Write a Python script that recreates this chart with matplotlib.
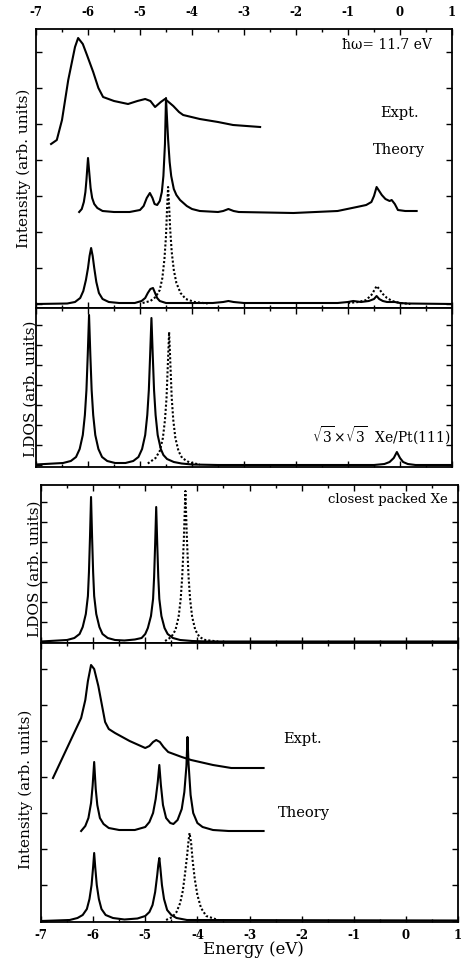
import matplotlib
matplotlib.use("Agg")
import matplotlib.pyplot as plt
from matplotlib.ticker import MultipleLocator

plt.rcParams['font.family'] = ['DejaVu Serif']
plt.rcParams['mathtext.fontset'] = 'dejavuserif'
plt.rcParams['axes.unicode_minus'] = False

# ---- sqrt3 x sqrt3 Xe/Pt(111): photoemission (top panel) ----
expt1_e = [-6.71, -6.6, -6.5, -6.38, -6.25, -6.19, -6.1, -6.02, -5.9, -5.8, -5.71, -5.5, -5.23, -5.05,
           -4.9, -4.8, -4.71, -4.6, -4.52, -4.45, -4.36, -4.25, -4.17, -3.85, -3.5, -3.21, -2.69]
expt1_i = [16.0, 16.4, 18.4, 22.4, 25.7, 26.6, 26.0, 24.9, 23.2, 21.6, 20.7, 20.3, 20.0, 20.3,
           20.5, 20.3, 19.7, 20.2, 20.5, 20.2, 19.8, 19.2, 18.9, 18.5, 18.2, 17.9, 17.7]

theo1_e = [-6.17, -6.12, -6.08, -6.05, -6.03, -6.0, -5.97, -5.95, -5.92, -5.88, -5.82, -5.72, -5.5,
           -5.2, -5.0, -4.93, -4.87, -4.81, -4.76, -4.72, -4.67, -4.62, -4.58, -4.55, -4.52, -4.5,
           -4.48, -4.46, -4.43, -4.4, -4.35, -4.3, -4.23, -4.1, -4.0, -3.85, -3.5, -3.4, -3.3, -3.2,
           -3.1, -2.05, -1.2, -0.83, -0.65, -0.55, -0.5, -0.45, -0.4, -0.35, -0.28, -0.2, -0.16,
           -0.1, -0.04, 0.1, 0.32]
theo1_i = [9.2, 9.5, 10.2, 11.2, 12.4, 14.6, 12.8, 11.6, 10.6, 10.0, 9.6, 9.3, 9.2,
           9.2, 9.4, 9.8, 10.6, 11.1, 10.6, 10.0, 9.9, 10.3, 11.2, 12.8, 16.0, 20.6,
           18.5, 16.5, 14.2, 12.8, 11.5, 10.9, 10.4, 9.8, 9.5, 9.3, 9.2, 9.3, 9.5, 9.3,
           9.2, 9.1, 9.3, 9.7, 9.9, 10.2, 10.8, 11.7, 11.3, 10.9, 10.5, 10.3, 10.4,
           10.0, 9.4, 9.3, 9.3]

part1_e = [-7.0, -6.4, -6.25, -6.15, -6.09, -6.04, -6.0, -5.97, -5.94, -5.91, -5.88, -5.84, -5.79,
           -5.72, -5.6, -5.4, -5.1, -4.97, -4.9, -4.85, -4.8, -4.75, -4.71, -4.67, -4.62, -4.5, -3.6,
           -3.4, -3.3, -3.2, -3.0, -1.2, -1.0, -0.9, -0.75, -0.6, -0.5, -0.45, -0.4, -0.33, -0.25,
           -0.1, 0.0, 0.15, 1.0]
part1_s = [0.0, 0.05, 0.2, 0.6, 1.3, 2.4, 3.6, 4.8, 5.6, 4.8, 3.6, 2.2, 1.1,
           0.5, 0.2, 0.1, 0.1, 0.3, 0.6, 1.1, 1.5, 1.6, 1.1, 0.6, 0.3, 0.1, 0.1,
           0.2, 0.3, 0.2, 0.1, 0.1, 0.2, 0.3, 0.2, 0.3, 0.5, 0.8, 0.5, 0.3, 0.2,
           0.2, 0.1, 0.05, 0.0]

dot1_e = [-4.95, -4.8, -4.7, -4.62, -4.57, -4.53, -4.5, -4.48, -4.46, -4.44, -4.42, -4.39,
          -4.35, -4.3, -4.22, -4.12, -3.95, -3.7]
dot1_p = [0.1, 0.3, 0.7, 1.4, 2.6, 4.5, 6.8, 9.5, 11.7, 9.8, 7.5, 5.2,
          3.4, 2.1, 1.1, 0.5, 0.2, 0.05]
dot1b_e = [-1.0, -0.8, -0.65, -0.55, -0.48, -0.45, -0.4, -0.33, -0.25, -0.15, 0.0, 0.2]
dot1b_p = [0.1, 0.2, 0.4, 0.9, 1.5, 1.8, 1.5, 1.0, 0.6, 0.3, 0.1, 0.0]

# ---- sqrt3 x sqrt3 Xe/Pt(111): LDOS ----
ldos1_e = [-7.0, -6.48, -6.33, -6.23, -6.16, -6.10, -6.06, -6.03, -6.005, -5.98, -5.955, -5.93,
           -5.90, -5.86, -5.80, -5.73, -5.63, -5.48, -5.28, -5.13, -5.03, -4.96, -4.90, -4.86,
           -4.83, -4.805, -4.78, -4.755, -4.73, -4.70, -4.66, -4.60, -4.55, -4.48, -4.35, -4.2,
           -4.0, -3.5, -0.5, -0.3, -0.2, -0.12, -0.06, 0.0, 0.06, 0.15, 0.3, 1.0]
ldos1_s = [0.05, 0.2, 0.4, 0.8, 1.6, 3.0, 5.0, 7.5, 11.0, 15.0, 11.0, 7.5,
           5.0, 3.0, 1.6, 0.8, 0.4, 0.2, 0.2, 0.4, 0.8, 1.6, 3.0, 5.0,
           7.5, 11.0, 14.7, 11.0, 7.5, 5.0, 3.0, 1.6, 1.0, 0.6, 0.3, 0.15,
           0.05, 0.0, 0.0, 0.1, 0.3, 0.7, 1.3, 0.7, 0.3, 0.1, 0.0, 0.0]
ldos1_dot_e = [-4.85, -4.7, -4.62, -4.56, -4.52, -4.49, -4.465, -4.44, -4.415, -4.39, -4.36,
               -4.32, -4.26, -4.19, -4.05, -3.85]
ldos1_dot_p = [0.15, 0.7, 1.4, 2.7, 4.5, 6.7, 10.0, 13.3, 10.0, 6.7, 4.5,
               2.7, 1.4, 0.7, 0.25, 0.05]

# ---- closest packed Xe: LDOS ----
ldos2_e = [-7.0, -6.5, -6.36, -6.26, -6.2, -6.14, -6.1, -6.08, -6.06, -6.04, -6.02, -6.0,
           -5.98, -5.94, -5.88, -5.82, -5.72, -5.58, -5.4, -5.2, -5.07, -5.0, -4.95, -4.89, -4.85,
           -4.83, -4.81, -4.79, -4.77, -4.75, -4.73, -4.69, -4.63, -4.57, -4.47, -4.33, -4.1,
           -3.8, 1.0]
ldos2_s = [0.05, 0.2, 0.4, 0.8, 1.5, 2.8, 4.6, 7.0, 10.5, 14.5, 10.5, 7.0,
           4.6, 2.8, 1.5, 0.8, 0.4, 0.2, 0.15, 0.25, 0.4, 0.8, 1.4, 2.6, 4.3,
           6.5, 9.8, 13.5, 9.8, 6.5, 4.3, 2.6, 1.4, 0.8, 0.4, 0.2, 0.1,
           0.05, 0.05]
ldos2_dot_e = [-4.62, -4.5, -4.42, -4.36, -4.32, -4.29, -4.26, -4.23, -4.2, -4.17, -4.14,
               -4.1, -4.04, -3.96, -3.85, -3.6]
ldos2_dot_p = [0.1, 0.5, 1.2, 2.5, 4.3, 6.6, 10.2, 15.1, 10.2, 6.6, 4.3,
               2.5, 1.2, 0.5, 0.2, 0.05]

# ---- closest packed Xe: photoemission ----
expt2_e = [-6.77, -6.5, -6.23, -6.15, -6.1, -6.04, -5.98, -5.9, -5.77, -5.7, -5.58, -5.3, -5.0,
           -4.92, -4.85, -4.79, -4.72, -4.65, -4.56, -4.3, -4.12, -3.7, -3.35, -2.73]
expt2_i = [14.3, 17.3, 20.3, 22.1, 24.0, 25.6, 25.2, 23.5, 19.9, 19.2, 18.8, 18.0, 17.3,
           17.5, 17.9, 18.1, 17.9, 17.4, 16.9, 16.4, 16.1, 15.6, 15.3, 15.3]

theo2_e = [-6.23, -6.15, -6.09, -6.04, -6.01, -5.98, -5.95, -5.92, -5.87, -5.8, -5.7, -5.5, -5.2,
           -5.0, -4.92, -4.85, -4.8, -4.76, -4.73, -4.7, -4.66, -4.6, -4.52, -4.46, -4.38, -4.3,
           -4.25, -4.21, -4.19, -4.17, -4.13, -4.08, -4.0, -3.9, -3.7, -3.4, -2.73]
theo2_i = [9.0, 9.5, 10.3, 11.8, 13.5, 15.9, 13.2, 11.6, 10.3, 9.7, 9.3, 9.1, 9.1,
           9.4, 9.9, 10.8, 12.2, 13.9, 15.6, 13.6, 11.6, 10.3, 9.8, 9.7, 10.1, 11.2,
           12.9, 15.5, 18.4, 15.8, 12.6, 10.8, 9.8, 9.4, 9.1, 9.0, 9.0]

part2_e = [-7.0, -6.45, -6.3, -6.2, -6.12, -6.07, -6.03, -6.0, -5.98, -5.96, -5.93, -5.89, -5.84,
           -5.76, -5.62, -5.4, -5.15, -5.0, -4.92, -4.86, -4.81, -4.77, -4.75, -4.73, -4.71, -4.68,
           -4.64, -4.58, -4.5, -4.4, -4.2, 1.0]
part2_s = [0.0, 0.1, 0.3, 0.6, 1.2, 2.2, 3.6, 5.4, 6.8, 5.4, 3.6, 2.2, 1.2,
           0.6, 0.3, 0.15, 0.25, 0.5, 0.9, 1.6, 2.9, 4.6, 5.6, 6.3, 5.3, 3.6,
           2.2, 1.1, 0.6, 0.3, 0.1, 0.05]
dot2_e = [-4.6, -4.48, -4.4, -4.33, -4.28, -4.24, -4.2, -4.17, -4.15, -4.12, -4.09, -4.05, -4.0,
          -3.93, -3.83, -3.6]
dot2_p = [0.1, 0.4, 0.9, 1.8, 3.0, 4.6, 6.4, 8.0, 8.8, 7.8, 6.0, 4.2, 2.6,
          1.3, 0.5, 0.1]

W, H = 467, 964
fig = plt.figure(figsize=(W / 100, H / 100), dpi=100)


def box(left, top, right, bottom):
    return [left / W, 1 - bottom / H, (right - left) / W, (bottom - top) / H]


def ftext(px, py, s, **kw):
    fig.text(px / W, 1 - py / H, s, **kw)


ax1 = fig.add_axes(box(36, 29, 452, 308))
ax2 = fig.add_axes(box(36, 308, 452, 467))
ax3 = fig.add_axes(box(41, 485, 458, 643))
ax4 = fig.add_axes(box(41, 643, 458, 922))

lw = 1.5
k = dict(color='black', lw=lw)
dots = (0, (1, 1))
ax1.plot(expt1_e, expt1_i, **k)
ax1.plot(theo1_e, theo1_i, **k)
ax1.plot(part1_e, part1_s, **k)
ax1.plot(dot1_e, dot1_p, ls=dots, **k)
ax1.plot(dot1b_e, dot1b_p, ls=dots, **k)
ax1.set_ylim(-0.4, 27.5)

ax2.plot(ldos1_e, ldos1_s, **k)
ax2.plot(ldos1_dot_e, ldos1_dot_p, ls=dots, **k)
ax2.set_ylim(-0.2, 15.7)

ax3.plot(ldos2_e, ldos2_s, **k)
ax3.plot(ldos2_dot_e, ldos2_dot_p, ls=dots, **k)
ax3.set_ylim(-0.1, 15.7)

ax4.plot(expt2_e, expt2_i, **k)
ax4.plot(theo2_e, theo2_i, **k)
ax4.plot(part2_e, part2_s, **k)
ax4.plot(dot2_e, dot2_p, ls=dots, **k)
ax4.set_ylim(-0.1, 27.8)

for ax, ystep in [(ax1, 3.6), (ax2, 2.0), (ax3, 2.0), (ax4, 3.6)]:
    ax.set_xlim(-7, 1)
    ax.xaxis.set_major_locator(MultipleLocator(1))
    ax.xaxis.set_minor_locator(MultipleLocator(0.5))
    ax.yaxis.set_major_locator(MultipleLocator(ystep))
    ax.tick_params(which='both', direction='in', top=True, bottom=True, left=True, right=True,
                   labelleft=False, labelbottom=False, labeltop=False, width=1.0)
    ax.tick_params(which='major', length=4)
    ax.tick_params(which='minor', length=2)
    for sp in ax.spines.values():
        sp.set_linewidth(1.3)

ax1.tick_params(labeltop=True, labelsize=8.5, pad=7)
ax4.tick_params(labelbottom=True, labelsize=8.5, pad=5)
for lab in ax1.get_xticklabels() + ax4.get_xticklabels():
    lab.set_fontweight('bold')

ftext(253, 949, "Energy (eV)", fontsize=12, ha='center', va='center')
ftext(24, 168, "Intensity (arb. units)", rotation=90, fontsize=11, ha='center', va='center')
ftext(31, 389, "LDOS (arb. units)", rotation=90, fontsize=11, ha='center', va='center')
ftext(35, 569, "LDOS (arb. units)", rotation=90, fontsize=11, ha='center', va='center')
ftext(26, 789, "Intensity (arb. units)", rotation=90, fontsize=11, ha='center', va='center')

ftext(432, 45, "ħω= 11.7 eV", fontsize=10, ha='right', va='center')
ftext(380, 113, "Expt.", fontsize=10.5, ha='left', va='center')
ftext(373, 150, "Theory", fontsize=10.5, ha='left', va='center')
ftext(450, 436, r"$\sqrt{3}\!\times\!\sqrt{3}$  Xe/Pt(111)", fontsize=10, ha='right', va='center')
ftext(448, 499, "closest packed Xe", fontsize=9.5, ha='right', va='center')
ftext(283, 739, "Expt.", fontsize=10.5, ha='left', va='center')
ftext(278, 813, "Theory", fontsize=10.5, ha='left', va='center')

fig.savefig("out.png", dpi=100)
